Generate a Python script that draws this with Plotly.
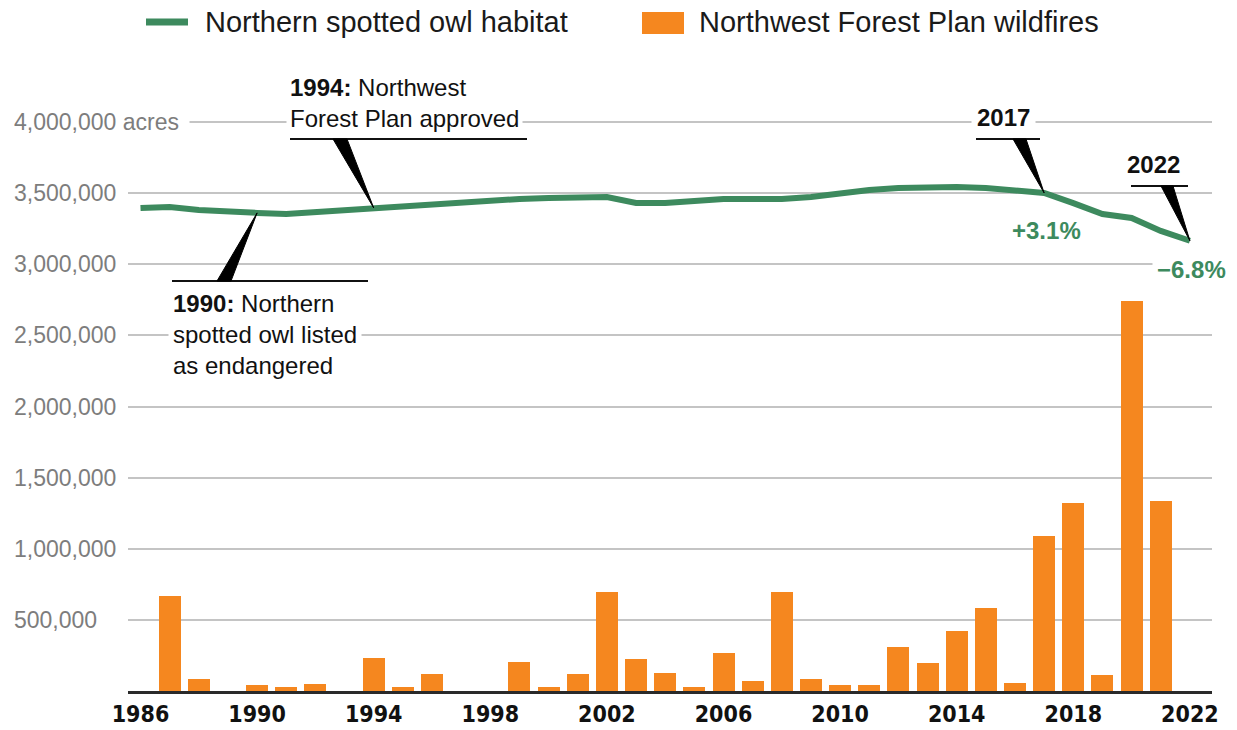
import plotly.graph_objects as go

# ---------------- data ----------------
years = list(range(1986, 2023))
habitat_acres = [3395000, 3403000, 3382000, 3368000, 3361000, 3354000, 3368000, 3382000,
                 3396000, 3410000, 3424000, 3438000, 3452000, 3459000, 3466000, 3473000,
                 3473000, 3431000, 3431000, 3445000, 3459000, 3459000, 3459000, 3473000,
                 3501000, 3522000, 3536000, 3543000, 3543000, 3536000, 3522000, 3501000,
                 3430000, 3353000, 3325000, 3234000, 3165000]
wildfire_acres = [0, 670000, 85000, 0, 40000, 25000, 52000, 0,
                  235000, 27000, 122000, 0, 0, 207000, 27000, 122000,
                  697000, 225000, 124000, 27000, 270000, 68000, 697000, 82000,
                  40000, 40000, 308000, 198000, 425000, 583000, 54000, 1090000,
                  1325000, 112000, 2745000, 1338000, 0]
x_tick_years = [1986, 1990, 1994, 1998, 2002, 2006, 2010, 2014, 2018, 2022]
y_tick_values = [500000, 1000000, 1500000, 2000000, 2500000, 3000000, 3500000, 4000000]
y_tick_labels = ["500,000", "1,000,000", "1,500,000", "2,000,000", "2,500,000",
                 "3,000,000", "3,500,000", "4,000,000 acres"]
series_names = ["Northern spotted owl habitat", "Northwest Forest Plan wildfires"]

GREEN = "#3d8a5e"
ORANGE = "#f5871f"
GRID = "#c4c4c4"
FONT = "Liberation Sans, Arial, sans-serif"
NARROW = "Liberation Sans Narrow, DejaVu Sans Condensed, Liberation Sans, sans-serif"

# ---------------- geometry ----------------
W, H = 1237, 730
ML, MR, MT, MB = 128, 25, 108, 39
L, R, T, B = ML, W - MR, MT, H - MB
PX_PER_YEAR = 29.15
X0 = 1986 - (140.5 - L) / PX_PER_YEAR
X1 = X0 + (R - L) / PX_PER_YEAR
YMAX = 4000000 * (B - T) / (691 - 122)


def pxp(px):  # pixel x -> paper
    return (px - L) / (R - L)


def pyp(py):  # pixel y -> paper
    return (B - py) / (B - T)


def xdp(year):  # data x -> paper
    return (year - X0) / (X1 - X0)


def ydp(v):  # data y -> paper
    return v / YMAX


fig = go.Figure()
fig.add_trace(go.Bar(x=years, y=wildfire_acres, marker=dict(color=ORANGE, line=dict(width=0)),
                     width=0.755, name=series_names[1], showlegend=False))
fig.add_trace(go.Scatter(x=years, y=habitat_acres, mode="lines",
                         line=dict(color=GREEN, width=6), name=series_names[0],
                         showlegend=False))

annotations = []
shapes = []

# y tick labels (left aligned)
for v, lab in zip(y_tick_values, y_tick_labels):
    annotations.append(dict(text=lab, xref="paper", yref="paper", x=pxp(10), y=ydp(v),
                            xanchor="left", yanchor="middle", showarrow=False,
                            align="left", width=(172 if "acres" in lab else 106),
                            bgcolor="white", borderpad=3,
                            font=dict(family=FONT, size=23, color="#7d7d7d")))

# legend
shapes.append(dict(type="line", xref="paper", yref="paper", x0=pxp(146), x1=pxp(188),
                   y0=pyp(22), y1=pyp(22), line=dict(color=GREEN, width=7)))
annotations.append(dict(text=series_names[0], xref="paper", yref="paper", x=pxp(203), y=pyp(22),
                        xanchor="left", yanchor="middle", showarrow=False,
                        font=dict(family=FONT, size=29, color="#1a1a1a")))
shapes.append(dict(type="rect", xref="paper", yref="paper", x0=pxp(642), x1=pxp(684),
                   y0=pyp(34), y1=pyp(12), fillcolor=ORANGE, line=dict(width=0)))
annotations.append(dict(text=series_names[1], xref="paper", yref="paper", x=pxp(697), y=pyp(22),
                        xanchor="left", yanchor="middle", showarrow=False,
                        font=dict(family=FONT, size=29, color="#1a1a1a")))


def hab(year):
    return habitat_acres[years.index(year)]


def wedge(bx0, bx1, by, year):
    ax, ay = xdp(year), ydp(hab(year))
    return dict(type="path", xref="paper", yref="paper",
                path=f"M {pxp(bx0)},{pyp(by)} L {pxp(bx1)},{pyp(by)} L {ax},{ay} Z",
                fillcolor="black", line=dict(color="black", width=1))


def rule(xa, xb, y):
    return dict(type="line", xref="paper", yref="paper", x0=pxp(xa), x1=pxp(xb),
                y0=pyp(y), y1=pyp(y), line=dict(color="#111", width=2))


TXT = dict(family=FONT, size=24, color="#111")

# 1994 annotation
annotations.append(dict(text="<b>1994:</b> Northwest<br>Forest Plan approved", xref="paper",
                        yref="paper", x=pxp(286), y=pyp(136), xanchor="left", yanchor="bottom",
                        align="left", showarrow=False, bgcolor="white", borderpad=3, font=TXT))
shapes.append(rule(290, 527, 139))
shapes.append(wedge(333, 347, 139, 1994))

# 1990 annotation
annotations.append(dict(text="<b>1990:</b> Northern<br>spotted owl listed<br>as endangered",
                        xref="paper", yref="paper", x=pxp(168), y=pyp(285), xanchor="left",
                        yanchor="top", align="left", showarrow=False, bgcolor="white",
                        borderpad=4, font=TXT))
shapes.append(rule(172, 368, 281))
shapes.append(wedge(217, 231, 281, 1990))

# 2017
annotations.append(dict(text="<b>2017</b>", xref="paper", yref="paper", x=pxp(1003), y=pyp(118),
                        xanchor="center", yanchor="middle", showarrow=False, bgcolor="white",
                        borderpad=5, font=dict(family=FONT, size=24, color="#111")))
shapes.append(rule(976, 1040, 139))
shapes.append(wedge(1013, 1026, 139, 2017))
annotations.append(dict(text="<b>+3.1%</b>", xref="paper", yref="paper", x=pxp(1046), y=pyp(230),
                        xanchor="center", yanchor="middle", showarrow=False,
                        font=dict(family=FONT, size=24, color=GREEN)))

# 2022
annotations.append(dict(text="<b>2022</b>", xref="paper", yref="paper", x=pxp(1153), y=pyp(164),
                        xanchor="center", yanchor="middle", showarrow=False,
                        font=dict(family=FONT, size=24, color="#111")))
shapes.append(rule(1131, 1188, 186))
shapes.append(wedge(1161, 1173, 186, 2022))
annotations.append(dict(text="<b>\u22126.8%</b>", xref="paper", yref="paper", x=pxp(1152), y=pyp(269),
                        xanchor="left", yanchor="middle", showarrow=False, bgcolor="white",
                        borderpad=4, font=dict(family=FONT, size=24, color=GREEN)))

fig.update_layout(
    width=W, height=H,
    margin=dict(l=ML, r=MR, t=MT, b=MB, autoexpand=False),
    plot_bgcolor="white", paper_bgcolor="white",
    showlegend=False, bargap=0,
    annotations=annotations, shapes=shapes,
    xaxis=dict(range=[X0, X1], tickmode="array", tickvals=x_tick_years,
               ticktext=[str(y) for y in x_tick_years], showgrid=False, zeroline=False,
               showline=True, linecolor="#2a2a2a", linewidth=2.5, ticks="",
               tickfont=dict(family=NARROW, size=23, color="#111", weight="bold"),
               ticklabelstandoff=1, automargin=False, fixedrange=True),
    yaxis=dict(range=[0, YMAX], tickmode="array", tickvals=y_tick_values,
               showticklabels=False, showgrid=True, gridcolor=GRID, gridwidth=1.5,
               zeroline=False, showline=False, ticks="", automargin=False, fixedrange=True),
)

fig.write_html("out.html")
